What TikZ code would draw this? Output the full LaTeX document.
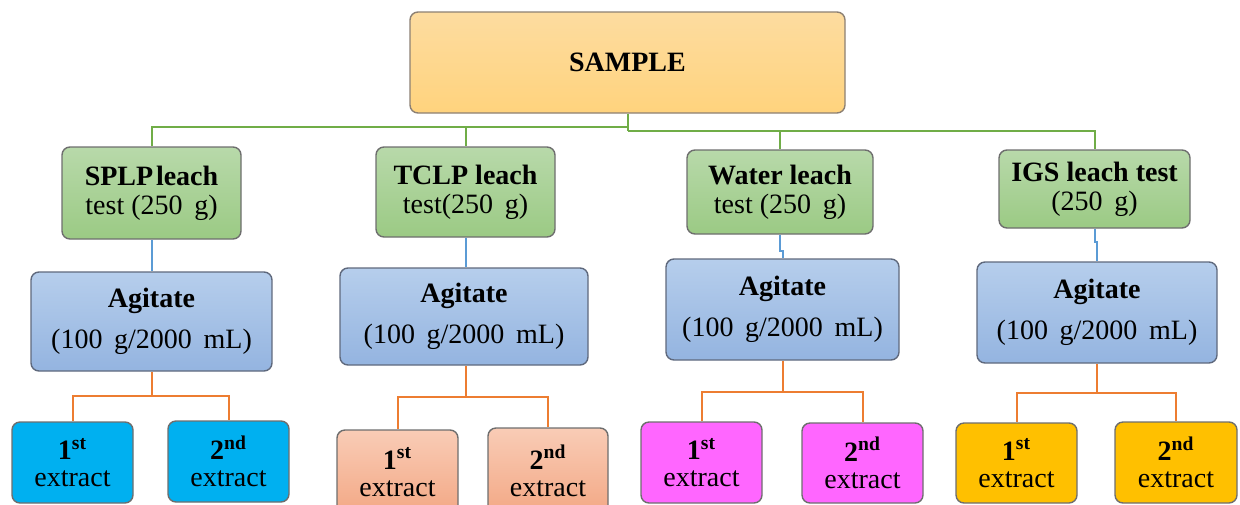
\documentclass[tikz,border=0pt]{standalone}
\usepackage{fontspec}
\setmainfont{Liberation Serif}
\usetikzlibrary{calc}
\definecolor{sampTop}{RGB}{253,220,160}
\definecolor{sampBot}{RGB}{255,211,125}
\definecolor{grnTop}{RGB}{184,217,170}
\definecolor{grnBot}{RGB}{155,202,132}
\definecolor{bluTop}{RGB}{182,206,236}
\definecolor{bluBot}{RGB}{148,180,224}
\definecolor{salTop}{RGB}{249,204,182}
\definecolor{salBot}{RGB}{243,168,133}
\definecolor{cyanbox}{RGB}{0,176,240}
\definecolor{magbox}{RGB}{255,102,255}
\definecolor{ambbox}{RGB}{255,192,0}
\definecolor{lineG}{RGB}{112,173,71}
\definecolor{lineB}{RGB}{91,155,213}
\definecolor{lineO}{RGB}{237,125,49}
\definecolor{edgeGray}{RGB}{110,110,110}
\definecolor{edgeBlue}{RGB}{95,105,125}
\tikzset{
  sz/.style 2 args={minimum width=#1*0.5pt, minimum height=#2*0.5pt},
  box/.style={draw=edgeGray, line width=0.7pt, rounded corners=4pt, inner sep=0pt,
    align=center, font=\rmfamily\fontsize{14}{14.5}\selectfont},
  samplebox/.style={box, top color=sampTop, bottom color=sampBot, draw=gray!80!brown},
  testbox/.style={box, top color=grnTop, bottom color=grnBot},
  agibox/.style={box, top color=bluTop, bottom color=bluBot, draw=edgeBlue,
    font=\rmfamily\fontsize{14}{20.5}\selectfont},
  extbox/.style={box, font=\rmfamily\fontsize{14}{13.5}\selectfont},
  cyanext/.style={extbox, fill=cyanbox},
  salext/.style={extbox, top color=salTop, bottom color=salBot},
  magext/.style={extbox, fill=magbox},
  ambext/.style={extbox, fill=ambbox},
  gline/.style={draw=lineG, line width=1pt},
  bline/.style={draw=lineB, line width=1pt},
  oline/.style={draw=lineO, line width=1pt},
}
\newcommand\firstx{\textbf{1\textsuperscript{st}}\\extract}
\newcommand\secondx{\textbf{2\textsuperscript{nd}}\\extract}
\begin{document}
\begin{tikzpicture}[x=0.5pt, y=-0.5pt]
\useasboundingbox (0,0) rectangle (1240,504);
\clip (0,0) rectangle (1240,504);

% top sample box
\node[samplebox, sz={435}{101}] (sample) at (627.5,62.5) {\textbf{SAMPLE}};

% leach tests
\node[testbox, sz={179}{92}] (splp)  at (151.5,193) {\textbf{SPLP\hspace{0.1em}leach}\\test (250\ \,g)};
\node[testbox, sz={179}{90}] (tclp)  at (465.5,192) {\textbf{TCLP leach}\\test(250\ \,g)};
\node[testbox, sz={186}{84}] (water) at (780,192)   {\textbf{Water leach}\\test (250\ \,g)};
\node[testbox, sz={191}{78}] (igs)   at (1094.5,189){\textbf{IGS leach test}\\(250\ \,g)};

% agitation steps
\node[agibox, sz={241}{99}]  (agsplp)  at (151.5,321.5) {\textbf{Agitate}\\(100\ \,g/2000\ \,mL)};
\node[agibox, sz={248}{97}]  (agtclp)  at (464,316.5)   {\textbf{Agitate}\\(100\ \,g/2000\ \,mL)};
\node[agibox, sz={233}{101}] (agwater) at (782.5,309.5) {\textbf{Agitate}\\(100\ \,g/2000\ \,mL)};
\node[agibox, sz={240}{101}] (agigs)   at (1097,312.5)  {\textbf{Agitate}\\(100\ \,g/2000\ \,mL)};

% extracts
\node[cyanext, sz={121}{81}] (s1) at (72.5,462.5)  {\firstx};
\node[cyanext, sz={121}{81}] (s2) at (228.5,461.5) {\secondx};
\node[salext,  sz={121}{84}] (t1) at (397.5,472)   {\firstx};
\node[salext,  sz={120}{86}] (t2) at (548,471)     {\secondx};
\node[magext,  sz={121}{81}] (w1) at (701.5,462.5) {\firstx};
\node[magext,  sz={121}{80}] (w2) at (862.5,463)   {\secondx};
\node[ambext,  sz={121}{80}] (i1) at (1016.5,463)  {\firstx};
\node[ambext,  sz={122}{81}] (i2) at (1176,462.5)  {\secondx};

% sample to leach tests
\coordinate (gjL) at (627.5,127);
\coordinate (gjR) at (627.5,131);
\draw[gline] (sample.south) -- (gjR);
\draw[gline] (gjL) -| (splp.north);
\draw[gline] (gjL) -| (tclp.north);
\draw[gline] (gjR) -| (water.north);
\draw[gline] (gjR) -| (igs.north);

% leach tests to agitation
\draw[bline] (splp.south) -- (agsplp.north);
\draw[bline] (tclp.south) -- (tclp.south |- agtclp.north);
\draw[bline] (water.south) -- ++(0,16) -| (agwater.north);
\draw[bline] (igs.south) -- ++(0,13) -| (agigs.north);

% agitation to extracts
\coordinate (oj1) at (151.5,396);
\coordinate (oj2) at (466,397);
\coordinate (oj3) at (782.5,392);
\coordinate (oj4) at (1097,393);
\draw[oline] (agsplp.south) -- (oj1);
\draw[oline] (oj1) -| (s1.north);
\draw[oline] (oj1) -| (s2.north);
\draw[oline] (agtclp.south -| oj2) -- (oj2);
\draw[oline] (oj2) -| (t1.north);
\draw[oline] (oj2) -| (t2.north);
\draw[oline] (agwater.south) -- (oj3);
\draw[oline] (oj3) -| (w1.north);
\draw[oline] (oj3) -| (w2.north);
\draw[oline] (agigs.south) -- (oj4);
\draw[oline] (oj4) -| (i1.north);
\draw[oline] (oj4) -| (i2.north);
\end{tikzpicture}
\end{document}
